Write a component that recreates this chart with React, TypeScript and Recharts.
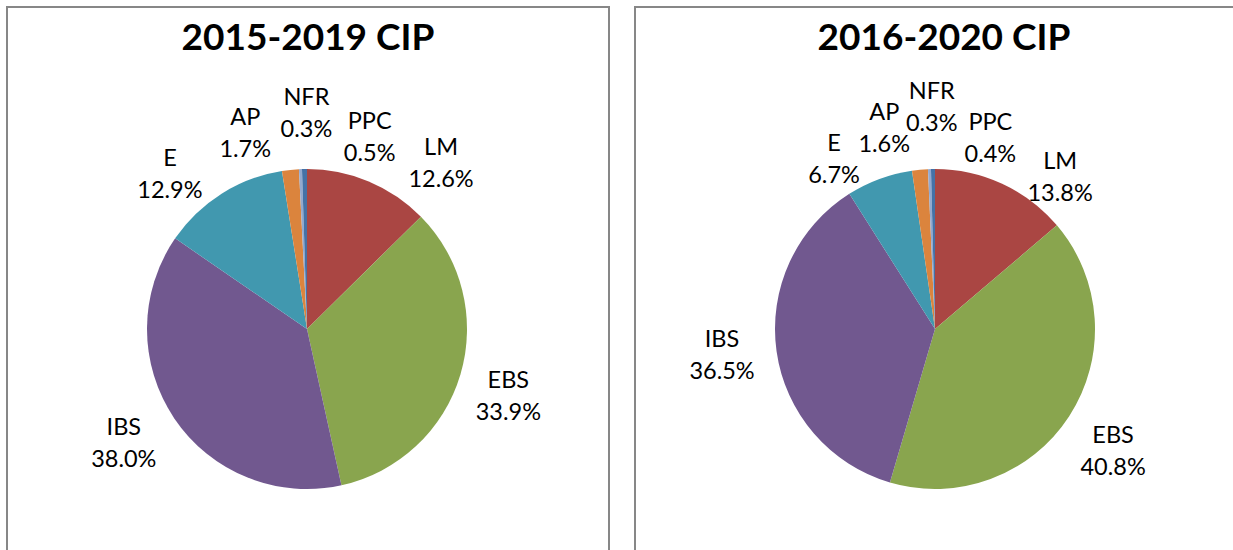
import { FC } from "react";
import { PieChart, Pie, Cell } from "recharts";

const categories = ["LM", "EBS", "IBS", "E", "AP", "NFR", "PPC"];
const cip2015 = [12.6, 33.9, 38.0, 12.9, 1.7, 0.3, 0.5];
const cip2020 = [13.8, 40.8, 36.5, 6.7, 1.6, 0.3, 0.4];
const titles = ["2015-2019 CIP", "2016-2020 CIP"];

const colors = ["#AA4643", "#89A54E", "#71588F", "#4198AF", "#DB843D", "#93A9CF", "#4572A7"];

// label nudges (dx, dy) from the plain radial spot, Excel-like "best fit"
const nudge2015 = [[53, 27], [0, 7], [-9, -4], [-25, 22], [-40, 12], [8, -7], [66, 17]];
const nudge2020 = [[37, 38], [2, 7], [-5, -4], [-28, 26], [-31, 8], [4, -13], [58, 18]];

const RAD = Math.PI / 180;
const FONT = "Lato, 'Open Sans', sans-serif";

const makeLabel = (nudges: number[][]) => (props: any) => {
    const { cx, cy, midAngle, outerRadius, index, name, value } = props;
    const r = outerRadius + 50;
    const x = cx + r * Math.cos(-midAngle * RAD) + nudges[index][0];
    const y = cy + r * Math.sin(-midAngle * RAD) + nudges[index][1];
    return (
        <text
            x={x}
            y={y}
            textAnchor="middle"
            fill="#000"
            fontFamily={FONT}
            fontSize={23.5}
        >
            <tspan x={x} dy={-7.5}>{name}</tspan>
            <tspan x={x} dy={32}>{value.toFixed(1) + "%"}</tspan>
        </text>
    );
};

const Panel: FC<{ left: number, width: number, title: string, values: number[], nudges: number[][] }> = ({ left, width, title, values, nudges }) => {
    const data = categories.map((name, i) => ({ name, value: values[i] }));
    return (
        <div style={{ position: "absolute", left, top: 6, width, height: 560, border: "2px solid #878787", boxSizing: "border-box", background: "#fff" }}>
            <div style={{
                position: "absolute",
                left: 0,
                top: 6,
                width: "100%",
                textAlign: "center",
                fontFamily: FONT,
                fontWeight: 700,
                fontSize: 37,
                lineHeight: "44px",
                color: "#000",
            }}>{title}</div>
            <div style={{ position: "absolute", left: -2, top: -2 }}>
                <PieChart width={width} height={550} margin={{ top: 0, right: 0, bottom: 0, left: 0 }}>
                    <Pie
                        data={data}
                        dataKey="value"
                        nameKey="name"
                        cx={301}
                        cy={323}
                        outerRadius={160}
                        startAngle={90}
                        endAngle={-270}
                        stroke="none"
                        label={makeLabel(nudges)}
                        labelLine={false}
                        isAnimationActive={false}
                    >
                        {data.map((d, i) => <Cell key={d.name} fill={colors[i]} />)}
                    </Pie>
                </PieChart>
            </div>
        </div>
    );
};

const App: FC = () => {
    return (
        <div style={{ position: "absolute", left: 0, top: 0, width: 1233, height: 550, overflow: "hidden", background: "#fff" }}>
            <Panel left={6} width={604} title={titles[0]} values={cip2015} nudges={nudge2015} />
            <Panel left={634} width={620} title={titles[1]} values={cip2020} nudges={nudge2020} />
        </div>
    );
};

export default App;
